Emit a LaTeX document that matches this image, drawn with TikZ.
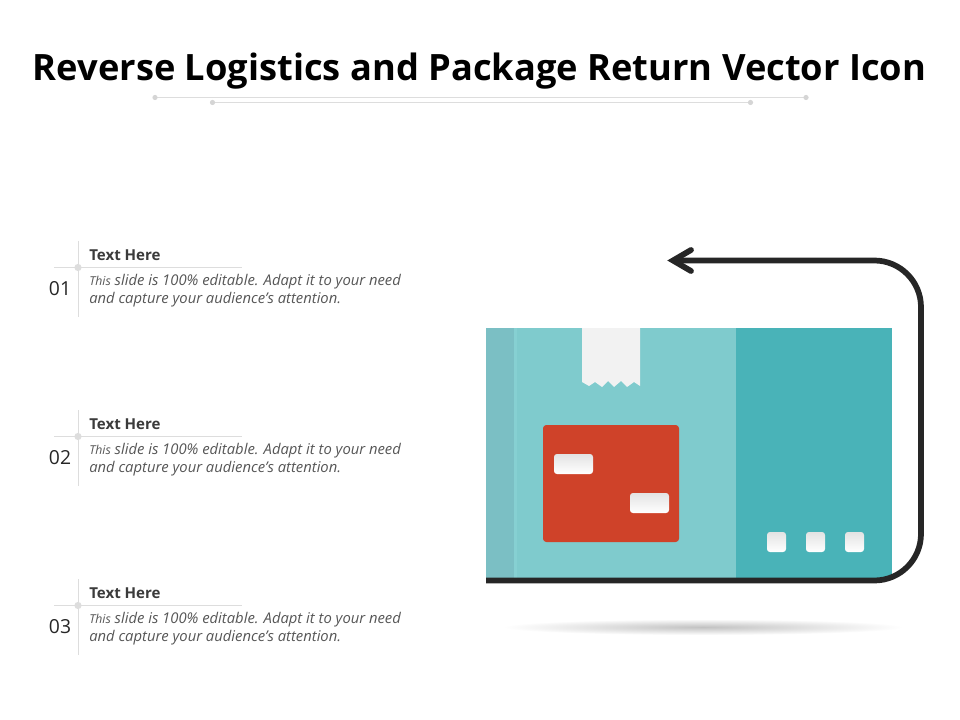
\documentclass[tikz,border=0pt]{standalone}
\usepackage{fontspec}
\setmainfont{Open Sans}
\usetikzlibrary{calc}
\definecolor{ink}{HTML}{262626}
\definecolor{rulegray}{HTML}{DDDDDD}
\definecolor{dotgray}{HTML}{D5D5D5}
\definecolor{sidestrip}{HTML}{7BBFC4}
\definecolor{boxmain}{HTML}{7FCBCD}
\definecolor{boxedge}{HTML}{86D0D2}
\definecolor{boxdark}{HTML}{49B3B8}
\definecolor{tapecol}{HTML}{F2F2F2}
\definecolor{labelred}{HTML}{CF4229}
\definecolor{heading}{HTML}{3B3B3B}
\definecolor{bodytext}{HTML}{565656}
\tikzset{
  x=0.75pt,y=-0.75pt,
  titletext/.style={inner sep=0pt,font=\bfseries\fontsize{27.2}{32}\selectfont,text=black},
  headtext/.style={anchor=west,inner sep=0pt,font=\bfseries\fontsize{11.3}{13}\selectfont,text=heading},
  bodyline/.style={anchor=west,inner sep=0pt,font=\itshape\fontsize{11.1}{13}\selectfont,text=bodytext},
  numtext/.style={inner sep=0pt,font=\fontsize{14.5}{16}\selectfont,text=black!85},
  thinrule/.style={draw=rulegray,line width=0.75pt},
  whitepad/.style={top color=black!11,middle color=white,bottom color=white,draw=none,rounded corners=2.2pt},
  returnline/.style={draw=ink,line width=4.3pt},
  tipline/.style={draw=ink,line width=4.3pt,line cap=round,line join=miter},
}
\begin{document}
\begin{tikzpicture}
\useasboundingbox (0,0) rectangle (960,720);
\fill[white] (0,0) rectangle (960,720);
% title
\node[titletext] (title) at (479.5,71) {Reverse Logistics and Package Return Vector Icon};
\coordinate (ta) at (155,97.5); \coordinate (tb) at (806,97.5);
\coordinate (tc) at (212.5,102.5); \coordinate (td) at (750.5,102.5);
\draw[thinrule] (ta) -- (tb);
\draw[thinrule] (tc) -- (td);
\foreach \p in {ta,tb,tc,td} \fill[dotgray] (\p) circle (2.6);
% text blocks
\foreach \i/\dy/\n in {1/0/01,2/169/02,3/338/03}{
  \coordinate (v\i a) at (78,241+\dy);
  \coordinate (v\i b) at (78,317+\dy);
  \coordinate (h\i a) at (54,267.5+\dy);
  \coordinate (h\i b) at (242,267.5+\dy);
  \draw[thinrule] (v\i a) -- (v\i b);
  \draw[thinrule] (h\i a) -- (h\i b);
  \fill[rulegray] (78,267.5+\dy) circle (3.6);
  \node[numtext] (num\i) at (60,289+\dy) {\n};
  \node[headtext] (head\i) at (89,255+\dy) {Text Here};
  \node[bodyline] (bodya\i) at (89,282+\dy) {{\fontsize{9.2}{13}\selectfont This} slide is 100\% editable. Adapt it to your need};
  \node[bodyline] (bodyb\i) at (89,300+\dy) {and capture your audience’s attention.};
}
% shadow
\shade[inner color=black!24,outer color=white,draw=none] (703,627) ellipse (200 and 8);
% package
\fill[boxmain] (486,328) rectangle (736,578);
\fill[boxedge] (514,328) rectangle (517,578);
\fill[sidestrip] (486,328) rectangle (514,578);
\fill[boxdark] (736,328) rectangle (892,578);
% tape
\fill[tapecol] (582,328) -- (640,328) -- (640,386) -- (634,382) -- (627,387) -- (621,381) -- (614,387) -- (608,381) -- (602,387) -- (595,382) -- (589,386) -- (582,382) -- cycle;
% label
\node[fill=labelred,draw=none,rounded corners=2.5pt,minimum width=102pt,minimum height=87.75pt,inner sep=0pt] (label) at (611,483.5) {};
\node[whitepad,minimum width=29.25pt,minimum height=15pt,inner sep=0pt] (padA) at (573.5,464) {};
\node[whitepad,minimum width=29.25pt,minimum height=15pt,inner sep=0pt] (padB) at (649.5,503) {};
\foreach \i/\x in {1/776.5,2/815.5,3/854.5}
  \node[whitepad,minimum width=14.25pt,minimum height=15pt,inner sep=0pt] (sq\i) at (\x,542) {};
% return arrow
\coordinate (lineStart) at (486,580.5);
\coordinate (lineEnd) at (676,260.5);
\coordinate (cornerA) at (921,580.5);
\coordinate (cornerB) at (921,260.5);
\draw[returnline,rounded corners=35pt] (lineStart) -- (cornerA) -- (cornerB) -- (lineEnd);
\coordinate (armA) at (691,250);
\coordinate (armB) at (691,271);
\coordinate (tip) at (673,260.5);
\draw[tipline] (armA) -- (tip) -- (armB);
\end{tikzpicture}
\end{document}
